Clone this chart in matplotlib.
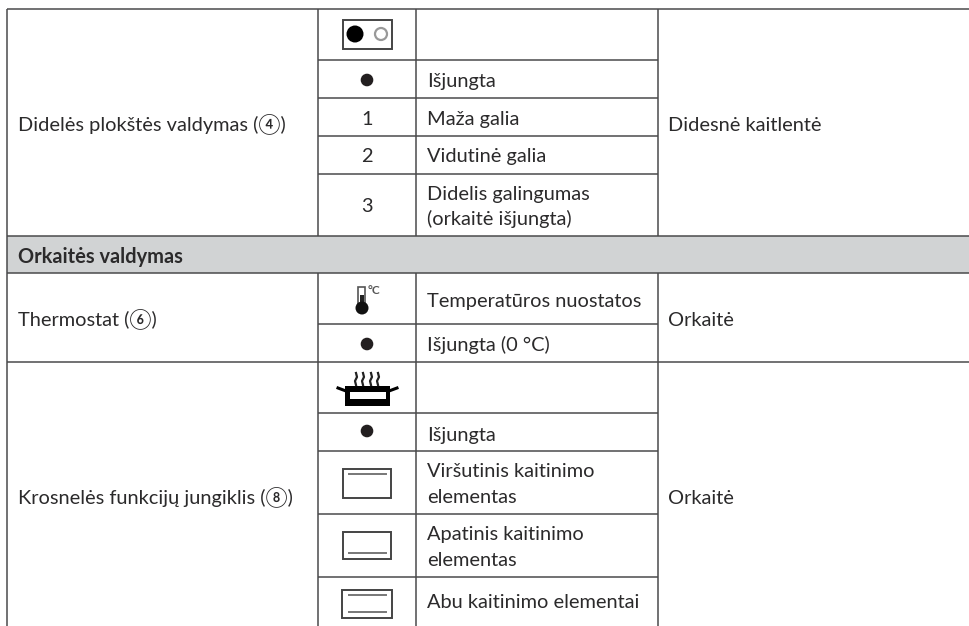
import matplotlib
matplotlib.use("Agg")
import matplotlib.pyplot as plt
from matplotlib.patches import Rectangle, Circle

plt.rcParams['font.family'] = ['Lato', 'Noto Sans CJK SC', 'DejaVu Sans']

W, H = 969, 626
LINE = '#4a4a4c'
TEXT = '#2b2a2b'
FS = 14.4

# table grid in px
col_x = [7, 318, 416, 658]
inner_rows = [60, 98, 136, 174, 324, 413, 451, 514, 577]
full_rows = [9, 236, 273, 362]

# (text, baseline y)
first_col = [("Didelės plokštės valdymas (④)", 131),
             ("Thermostat (⑥)", 326),
             ("Krosnelės funkcijų jungiklis (⑧)", 504)]
symbol_col = [("1", 125), ("2", 162), ("3", 212)]
off_rows = [80, 344, 431]
third_col = [("Išjungta", 87), ("Maža galia", 125), ("Vidutinė galia", 162),
             ("Didelis galingumas", 200), ("(orkaitė išjungta)", 225),
             ("Temperatūros nuostatos", 307), ("Išjungta (0 °C)", 351),
             ("Išjungta", 441), ("Viršutinis kaitinimo", 477), ("elementas", 503),
             ("Apatinis kaitinimo", 540), ("elementas", 566),
             ("Abu kaitinimo elementai", 608)]
fourth_col = [("Didesnė kaitlentė", 131), ("Orkaitė", 326), ("Orkaitė", 504)]
section_title = "Orkaitės valdymas"

fig = plt.figure(figsize=(W / 100, H / 100), dpi=100)
ax = fig.add_axes([0, 0, 1, 1])
ax.set_xlim(0, W)
ax.set_ylim(H, 0)
ax.axis('off')

# grey section band
ax.add_patch(Rectangle((col_x[0], 236), W - col_x[0], 37, fc='#d1d3d4', ec='none'))


def hline(y, x0, x1=W):
    ax.plot([x0, x1], [y, y], color=LINE, lw=1.1, solid_capstyle='butt')


def vline(x, y0, y1):
    ax.plot([x, x], [y0, y1], color=LINE, lw=1.1, solid_capstyle='butt')


for y in full_rows:
    hline(y, col_x[0])
for y in inner_rows:
    hline(y, col_x[1], col_x[3])

vline(col_x[0], 9, H)
for x in col_x[1:]:
    vline(x, 9, 236)
    vline(x, 273, H)

for s, y in first_col:
    ax.text(18, y, s, fontsize=FS, color=TEXT, va='baseline')
for s, y in symbol_col:
    ax.text(367, y, s, fontsize=FS, color=TEXT, va='baseline', ha='center')
for s, y in third_col:
    ax.text(427, y, s, fontsize=FS, color=TEXT, va='baseline')
for s, y in fourth_col:
    ax.text(668, y, s, fontsize=FS, color=TEXT, va='baseline')
ax.text(18, 263, section_title, fontsize=FS, color=TEXT, va='baseline', fontweight='bold')

# dots for the off position
for y in off_rows:
    ax.add_patch(Circle((367, y), 6.3, fc='#231f20', ec='none'))

# switch icon
ax.add_patch(Rectangle((343, 19.5), 49, 29, fc='white', ec='#444444', lw=1.4))
ax.add_patch(Circle((355, 34), 8.5, fc='black', ec='none'))
ax.add_patch(Circle((381, 34), 6, fc='white', ec='#999999', lw=1.6))

# thermometer icon
ax.add_patch(Rectangle((358.5, 287), 7, 19, fc='white', ec='#555555', lw=1.2))
ax.add_patch(Rectangle((360, 295), 4, 11, fc='#222222', ec='none'))
ax.add_patch(Circle((362, 308), 6.5, fc='#111111', ec='none'))
ax.text(374, 291, "°C", fontsize=8.5, color='#555555', ha='center', va='center', fontweight='bold')

# pot icon
ax.add_patch(Rectangle((345, 385.5), 45, 20, fc='black', ec='none'))
ax.add_patch(Rectangle((350, 392), 36, 7, fc='white', ec='none'))
ax.plot([338, 346], [388, 391], color='black', lw=2.2)
ax.plot([397, 389], [388, 391], color='black', lw=2.2)
for x in [356, 363, 371, 378]:
    ax.plot([x, x + 1, x - 1, x], [373, 377, 381, 385], color='#222222', lw=1.6)

# oven heating element icons
for left, right, top, bot, upper, lower in [(343.5, 391.5, 468.5, 498, 474, None),
                                            (343.5, 391.5, 532, 559, None, 553),
                                            (342.5, 392.5, 589.5, 618, 595, 612)]:
    ax.add_patch(Rectangle((left, top), right - left, bot - top, fc='white', ec='#444444', lw=1.4))
    if upper:
        ax.plot([349, 386], [upper, upper], color='#777777', lw=1.4)
    if lower:
        ax.plot([349, 386], [lower, lower], color='#777777', lw=1.4)

fig.savefig('out.png', dpi=100, facecolor='white')
